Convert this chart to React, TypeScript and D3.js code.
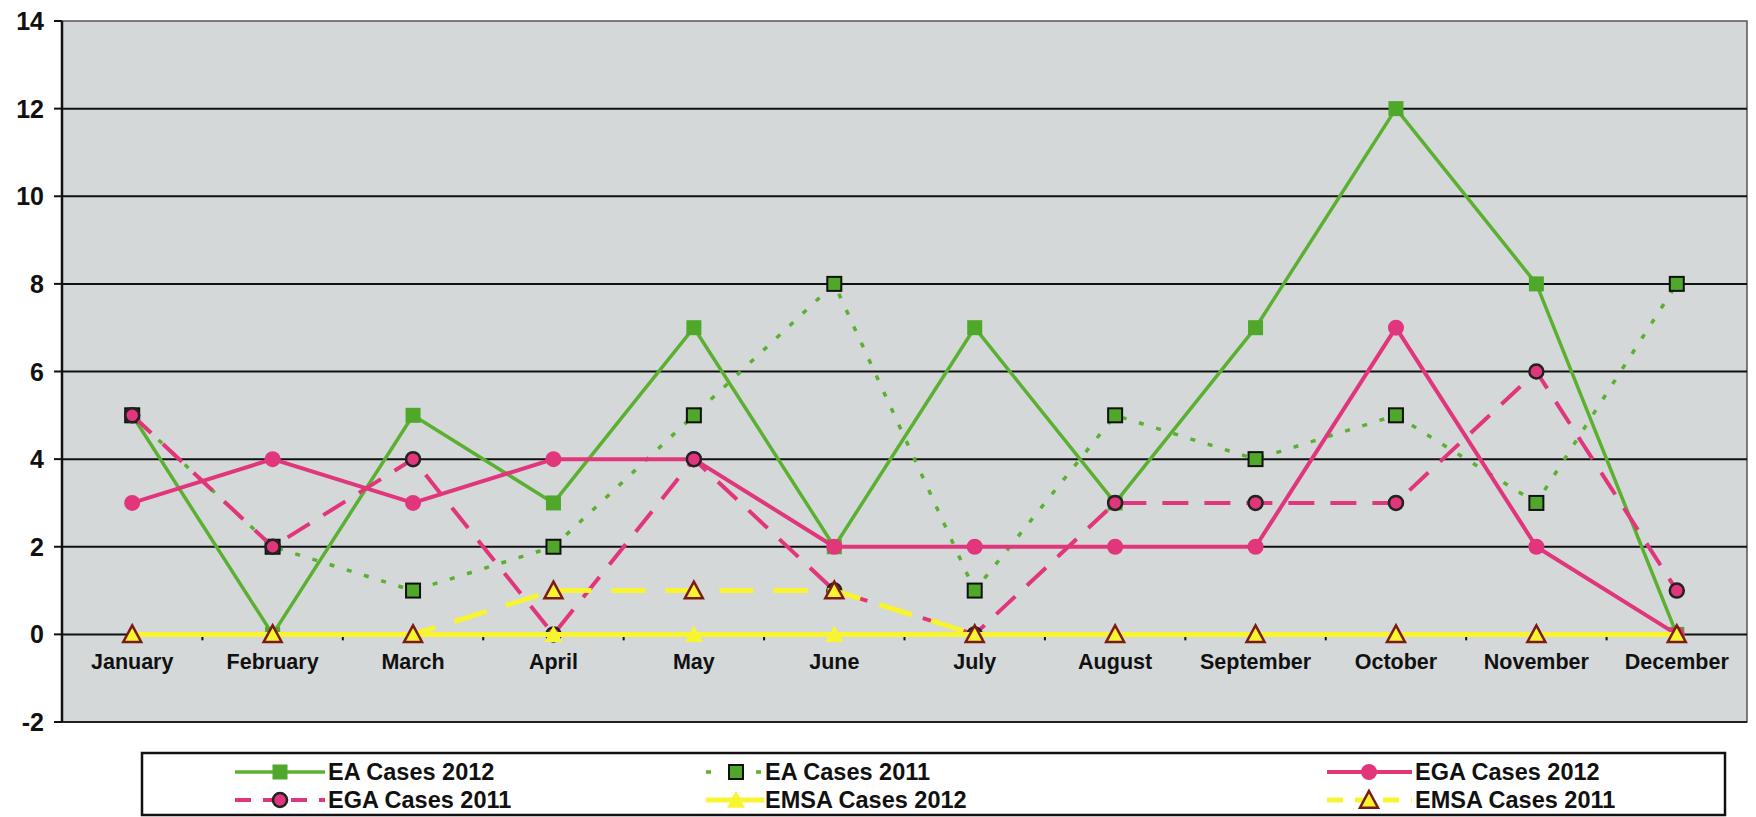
import React from "react";
import * as d3 from "d3";

const months = ["January","February","March","April","May","June","July","August","September","October","November","December"];
const yTicks = [-2, 0, 2, 4, 6, 8, 10, 12, 14];

const eaCases2012 = [5, 0, 5, 3, 7, 2, 7, 3, 7, 12, 8, 0];
const eaCases2011 = [5, 2, 1, 2, 5, 8, 1, 5, 4, 5, 3, 8];
const egaCases2012 = [3, 4, 3, 4, 4, 2, 2, 2, 2, 7, 2, 0];
const egaCases2011 = [5, 2, 4, 0, 4, 1, 0, 3, 3, 3, 6, 1];
const emsaCases2012 = [0, 0, 0, 0, 0, 0, 0, 0, 0, 0, 0, 0];
const emsaCases2011 = [0, 0, 0, 1, 1, 1, 0, 0, 0, 0, 0, 0];

const seriesNames = ["EA Cases 2012", "EA Cases 2011", "EGA Cases 2012", "EGA Cases 2011", "EMSA Cases 2012", "EMSA Cases 2011"];

const GREEN = "#5cb031";
const GREEN_M = "#4fa82a";
const PINK = "#e1357c";
const YELLOW = "#f8f530";
const DARKRED = "#7a1c14";
const BG = "#d4d8d9";

type Style = { color: string; width: number; dash?: string; marker: "square" | "circle" | "triangle"; fill: string; stroke?: string; size: number };

const styles: Style[] = [
  { color: GREEN, width: 3.5, marker: "square", fill: GREEN_M, size: 15 },
  { color: GREEN, width: 3.5, dash: "5 13", marker: "square", fill: GREEN_M, stroke: "#111", size: 14 },
  { color: PINK, width: 4, marker: "circle", fill: PINK, size: 16 },
  { color: PINK, width: 4, dash: "26 16", marker: "circle", fill: PINK, stroke: "#222", size: 14 },
  { color: YELLOW, width: 5, marker: "triangle", fill: YELLOW, size: 18 },
  { color: YELLOW, width: 5, dash: "34 20", marker: "triangle", fill: YELLOW, stroke: DARKRED, size: 18 },
];

const dataSets = [eaCases2012, eaCases2011, egaCases2012, egaCases2011, emsaCases2012, emsaCases2011];

function Marker({ s, cx, cy }: { s: Style; cx: number; cy: number }) {
  const h = s.size / 2;
  if (s.marker === "square") {
    return <rect x={cx - h} y={cy - h} width={s.size} height={s.size} fill={s.fill} stroke={s.stroke || "none"} strokeWidth={s.stroke ? 2 : 0} />;
  }
  if (s.marker === "circle") {
    return <circle cx={cx} cy={cy} r={h} fill={s.fill} stroke={s.stroke || "none"} strokeWidth={s.stroke ? 2.5 : 0} />;
  }
  const p = `M${cx},${cy - h} L${cx + h},${cy + h * 0.85} L${cx - h},${cy + h * 0.85} Z`;
  return <path d={p} fill={s.fill} stroke={s.stroke || "none"} strokeWidth={s.stroke ? 2.5 : 0} strokeLinejoin="miter" />;
}

export default function App() {
  const W = 1756, H = 817;
  const x = d3.scaleBand<string>().domain(months).range([62, 1747]);
  const y = d3.scaleLinear().domain([-2, 14]).range([722, 21]);
  const cx = (m: string) => (x(m) as number) + x.bandwidth() / 2;
  const line = d3.line<number>().x((_, i) => cx(months[i])).y((d) => y(d));

  const legendCols = [
    { lineX0: 235, lineX1: 325, mark: 280, text: 328 },
    { lineX0: 706, lineX1: 764, mark: 736, text: 765 },
    { lineX0: 1327, lineX1: 1412, mark: 1369, text: 1415 },
  ];
  const legendRows = [772, 800];

  return (
    <svg width={W} height={H} style={{ position: "absolute", left: 0, top: 0, background: "#fff" }} fontFamily="Liberation Sans, Arial, sans-serif">
      <rect x={0} y={0} width={W} height={H} fill="#fff" />
      <rect x={x.range()[0]} y={y(14)} width={x.range()[1] - x.range()[0]} height={y(-2) - y(14)} fill={BG} stroke="#555" strokeWidth={1.5} />
      {yTicks.filter((t) => t > -2 && t < 14 && t !== 0).map((t) => (
        <line key={t} x1={x.range()[0]} x2={x.range()[1]} y1={y(t)} y2={y(t)} stroke="#111" strokeWidth={2} />
      ))}
      <line x1={x.range()[0]} x2={x.range()[1]} y1={y(0)} y2={y(0)} stroke="#111" strokeWidth={2} />
      {months.slice(1).map((m) => (
        <line key={m} x1={x(m) as number} x2={x(m) as number} y1={y(0)} y2={y(0) + 6} stroke="#111" strokeWidth={2} />
      ))}
      <line x1={x.range()[0]} x2={x.range()[1]} y1={y(-2)} y2={y(-2)} stroke="#222" strokeWidth={2} />
      <line x1={x.range()[0]} x2={x.range()[0]} y1={y(14)} y2={y(-2)} stroke="#111" strokeWidth={2.5} />
      {yTicks.map((t) => (
        <g key={t}>
          <line x1={x.range()[0] - 8} x2={x.range()[0]} y1={y(t)} y2={y(t)} stroke="#111" strokeWidth={2} />
          <text x={44} y={y(t)} dy="0.36em" textAnchor="end" fontSize={25} fontWeight="bold" fill="#111">{t}</text>
        </g>
      ))}
      {dataSets.map((d, si) => {
        const s = styles[si];
        return (
          <g key={si}>
            <path d={line(d) || ""} fill="none" stroke={s.color} strokeWidth={s.width} strokeDasharray={s.dash} strokeLinejoin="round" />
            {d.map((v, i) => (
              <Marker key={i} s={s} cx={cx(months[i])} cy={y(v)} />
            ))}
          </g>
        );
      })}
      {months.map((m) => (
        <text key={m} x={cx(m)} y={669} textAnchor="middle" fontSize={21.5} fontWeight="bold" fill="#111">{m}</text>
      ))}
      <rect x={142} y={753} width={1583} height={62} fill="#fff" stroke="#111" strokeWidth={2.5} />
      {seriesNames.map((name, i) => {
        const col = legendCols[i % 3];
        const ry = legendRows[Math.floor(i / 3)];
        const s = styles[i];
        return (
          <g key={name}>
            <line x1={col.lineX0} x2={col.lineX1} y1={ry} y2={ry} stroke={s.color} strokeWidth={s.width} strokeDasharray={s.dash ? (s.marker === "square" ? "5 20" : "16 12") : undefined} />
            <Marker s={s} cx={col.mark} cy={ry} />
            <text x={col.text} y={ry} dy="0.36em" fontSize={23.5} fontWeight="bold" fill="#111">{name}</text>
          </g>
        );
      })}
    </svg>
  );
}
